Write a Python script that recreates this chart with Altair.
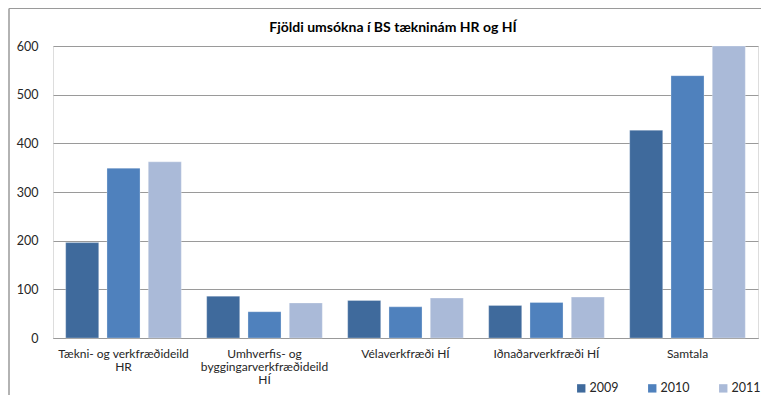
import altair as alt
import pandas as pd

title_text = "Fjöldi umsókna í BS tækninám HR og HÍ"
categories = [
    "Tækni- og verkfræðideild\nHR",
    "Umhverfis- og\nbyggingarverkfræðideild\nHÍ",
    "Vélaverkfræði HÍ",
    "Iðnaðarverkfræði HÍ",
    "Samtala",
]
years = ["2009", "2010", "2011"]
values_2009 = [196, 86, 77, 67, 427]
values_2010 = [349, 54, 64, 73, 539]
values_2011 = [362, 72, 82, 84, 600]
colors = ["#3F6A9C", "#4F81BD", "#AABAD8"]
y_ticks = [0, 100, 200, 300, 400, 500, 600]

rows = []
for yr, vals in zip(years, [values_2009, values_2010, values_2011]):
    for c, v in zip(categories, vals):
        rows.append({"Flokkur": c, "Ár": yr, "Fjöldi": v})
df = pd.DataFrame(rows)

FONT = "Lato"

bars = alt.Chart(df).mark_bar(stroke="#ffffff", strokeOpacity=0.35, strokeWidth=0.8).encode(
    x=alt.X(
        "Flokkur:N",
        sort=categories,
        scale=alt.Scale(paddingInner=0.18, paddingOuter=0.09),
        axis=alt.Axis(
            title=None,
            labelAngle=0,
            labelExpr="split(datum.label, '\\n')",
            labelLineHeight=13,
            labelFontSize=12,
            labelPadding=10,
            labelColor="#262626",
            labelFont=FONT,
            ticks=False,
            domainColor="#999999",
            domainWidth=1,
            labelLimit=200,
        ),
    ),
    xOffset=alt.XOffset("Ár:N", sort=years, scale=alt.Scale(paddingInner=0.2, paddingOuter=0)),
    y=alt.Y(
        "Fjöldi:Q",
        scale=alt.Scale(domain=[0, 600], nice=False),
        axis=alt.Axis(
            title=None,
            values=y_ticks,
            domain=False,
            ticks=False,
            gridColor="#9a9a9a",
            gridWidth=1,
            labelPadding=15,
            labelFontSize=12.5,
            labelColor="#262626",
            labelFont=FONT,
        ),
    ),
    color=alt.Color(
        "Ár:N",
        sort=years,
        scale=alt.Scale(domain=years, range=colors),
        legend=alt.Legend(
            title=None,
            orient="none",
            direction="horizontal",
            legendX=522,
            legendY=336,
            symbolType="square",
            symbolSize=70,
            symbolStrokeWidth=0,
            labelFontSize=12.5,
            labelFont=FONT,
            labelColor="#262626",
            labelOffset=2,
            columnPadding=27,
        ),
    ),
)

title_mark = alt.Chart().mark_text(
    font=FONT, fontSize=14, fontWeight="bold", color="#000000", align="center", baseline="middle"
).encode(x=alt.value(340), y=alt.value(-18), text=alt.value(title_text))

frame_left = alt.Chart().mark_rule(color="#9a9a9a", strokeWidth=1.5, clip=False).encode(
    x=alt.value(-44), y=alt.value(-37.5), y2=alt.value(360)
)
frame_top = alt.Chart().mark_rule(color="#9a9a9a", strokeWidth=1, clip=False).encode(
    x=alt.value(-44), x2=alt.value(710), y=alt.value(-37.5)
)

chart = alt.layer(frame_left, frame_top, bars, title_mark).properties(
    width=705,
    height=292,
    padding={"left": 45, "top": 38, "right": 3, "bottom": 57},
    autosize=alt.AutoSizeParams(type="none"),
).configure_view(stroke=None).configure(background="white")

chart.save("out.html", embed_options={"renderer": "svg", "actions": False})
